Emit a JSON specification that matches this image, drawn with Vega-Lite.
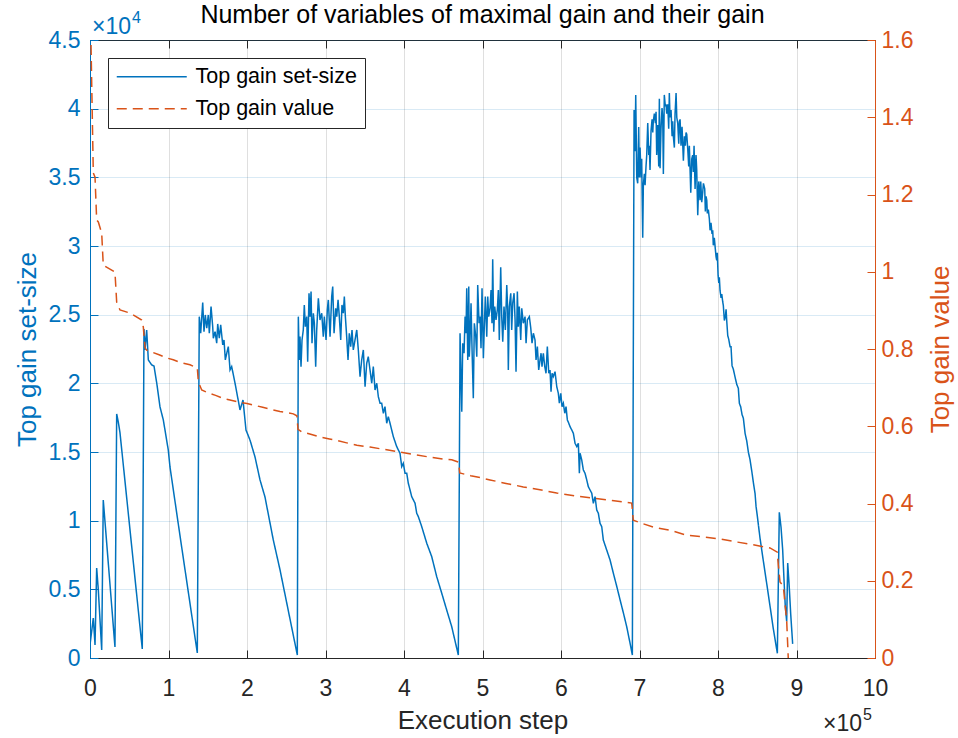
{
  "$schema": "https://vega.github.io/schema/vega-lite/v6.json",
  "width": 785,
  "height": 618,
  "autosize": {"type": "none"},
  "padding": {"left": 90, "top": 40, "right": 83, "bottom": 80},
  "background": "white",
  "config": {
    "font": "Liberation Sans",
    "view": {"stroke": "#262626", "strokeWidth": 1},
    "legend": {
      "orient": "none",
      "legendX": 18,
      "legendY": 18,
      "direction": "vertical",
      "padding": 8,
      "strokeColor": "#262626",
      "fillColor": "white",
      "cornerRadius": 0,
      "symbolType": "M-2,0H12",
      "symbolSize": 100,
      "symbolStrokeWidth": 1.5,
      "labelFontSize": 21.5,
      "labelColor": "#000000",
      "labelOffset": 58,
      "labelLimit": 400,
      "rowPadding": 9
    }
  },
  "title": {
    "text": "Number of variables of maximal gain and their gain",
    "fontSize": 25,
    "fontWeight": "normal",
    "color": "#000000",
    "anchor": "middle",
    "offset": -18
  },
  "datasets": {
    "setSize": [
      {"step": 0, "value": 950}, {"step": 4200, "value": 2913}, {"step": 6400, "value": 947}, {"step": 8500, "value": 6555}, {"step": 10600, "value": 4952}, {"step": 14900, "value": 583}, {"step": 16900, "value": 11507}, {"step": 31800, "value": 801}, {"step": 34000, "value": 17771}, {"step": 36000, "value": 17200}, {"step": 38200, "value": 16400}, {"step": 66600, "value": 655},
      {"step": 68800, "value": 23961}, {"step": 70100, "value": 22432}, {"step": 72200, "value": 23888}, {"step": 74300, "value": 21703}, {"step": 78600, "value": 21339}, {"step": 81500, "value": 21266}, {"step": 85000, "value": 20028}, {"step": 89200, "value": 18280}, {"step": 93400, "value": 17334}, {"step": 99700, "value": 15149}, {"step": 101900, "value": 13911}, {"step": 114700, "value": 8885}, {"step": 136700, "value": 364},
      {"step": 139200, "value": 24857}, {"step": 141000, "value": 23646}, {"step": 143600, "value": 25877}, {"step": 145200, "value": 23765}, {"step": 146900, "value": 24980}, {"step": 148700, "value": 24011}, {"step": 150700, "value": 24980}, {"step": 152000, "value": 23646}, {"step": 154200, "value": 25586}, {"step": 156300, "value": 24129}, {"step": 157100, "value": 23283}, {"step": 159300, "value": 23765}, {"step": 161400, "value": 22919}, {"step": 162700, "value": 24325}, {"step": 164700, "value": 23283}, {"step": 166500, "value": 24252}, {"step": 169100, "value": 22796}, {"step": 170700, "value": 23160}, {"step": 172400, "value": 21703}, {"step": 174200, "value": 22189}, {"step": 176200, "value": 22674}, {"step": 178400, "value": 20974}, {"step": 180500, "value": 21217}, {"step": 184700, "value": 20028}, {"step": 191100, "value": 18062}, {"step": 194900, "value": 18790}, {"step": 198700, "value": 16605}, {"step": 203800, "value": 15877}, {"step": 210200, "value": 14639}, {"step": 216600, "value": 12964}, {"step": 222900, "value": 11726}, {"step": 233500, "value": 8594}, {"step": 242100, "value": 6409}, {"step": 264100, "value": 218},
      {"step": 265400, "value": 24857}, {"step": 266600, "value": 21703}, {"step": 267500, "value": 23401}, {"step": 268800, "value": 21217}, {"step": 270100, "value": 23160}, {"step": 271700, "value": 23888}, {"step": 273000, "value": 25709}, {"step": 274300, "value": 24129}, {"step": 276100, "value": 24857}, {"step": 277300, "value": 21581}, {"step": 279000, "value": 26562}, {"step": 280300, "value": 24857}, {"step": 281600, "value": 26677}, {"step": 282800, "value": 22919}, {"step": 284500, "value": 25104}, {"step": 285800, "value": 24375}, {"step": 287500, "value": 21217}, {"step": 288800, "value": 23888}, {"step": 290900, "value": 26197}, {"step": 293000, "value": 24616}, {"step": 295200, "value": 25104}, {"step": 297200, "value": 23401}, {"step": 298500, "value": 24857}, {"step": 300700, "value": 23160}, {"step": 302300, "value": 25345}, {"step": 303600, "value": 26073}, {"step": 305800, "value": 23401}, {"step": 307900, "value": 26313}, {"step": 309200, "value": 27042}, {"step": 310900, "value": 23646}, {"step": 313000, "value": 25468}, {"step": 314300, "value": 24857}, {"step": 316000, "value": 26073}, {"step": 317600, "value": 24857}, {"step": 319400, "value": 23160}, {"step": 321000, "value": 25709}, {"step": 322700, "value": 25104}, {"step": 324000, "value": 26313}, {"step": 325300, "value": 24857}, {"step": 327000, "value": 23401}, {"step": 328700, "value": 21703}, {"step": 330300, "value": 23646}, {"step": 332100, "value": 22674}, {"step": 333800, "value": 23888}, {"step": 335400, "value": 22432}, {"step": 337600, "value": 23160}, {"step": 339800, "value": 23888}, {"step": 341800, "value": 22432}, {"step": 344000, "value": 20488}, {"step": 346100, "value": 21703}, {"step": 348200, "value": 22432}, {"step": 350400, "value": 19759}, {"step": 352500, "value": 21460}, {"step": 354500, "value": 21945}, {"step": 356700, "value": 20975}, {"step": 358900, "value": 20004}, {"step": 360900, "value": 21217}, {"step": 363100, "value": 19518}, {"step": 365300, "value": 20004}, {"step": 367300, "value": 19031}, {"step": 369500, "value": 18547}, {"step": 371600, "value": 18547}, {"step": 373700, "value": 17820}, {"step": 375800, "value": 18304}, {"step": 378000, "value": 17093}, {"step": 380000, "value": 17575}, {"step": 382200, "value": 17093}, {"step": 384300, "value": 16605}, {"step": 386400, "value": 16120}, {"step": 390700, "value": 15392}, {"step": 394900, "value": 14906}, {"step": 397100, "value": 13932}, {"step": 399100, "value": 14180}, {"step": 401300, "value": 13448}, {"step": 403500, "value": 13448}, {"step": 405500, "value": 12723}, {"step": 407700, "value": 12235}, {"step": 409800, "value": 11749}, {"step": 414100, "value": 11265}, {"step": 416200, "value": 10535}, {"step": 418300, "value": 10291}, {"step": 422600, "value": 9563}, {"step": 429000, "value": 8354}, {"step": 435300, "value": 7384}, {"step": 441700, "value": 5921}, {"step": 448100, "value": 4712}, {"step": 454400, "value": 3496}, {"step": 460800, "value": 2280}, {"step": 469200, "value": 218},
      {"step": 470500, "value": 13452}, {"step": 471400, "value": 23648}, {"step": 472700, "value": 20247}, {"step": 473600, "value": 17938}, {"step": 474800, "value": 22920}, {"step": 476500, "value": 22192}, {"step": 477800, "value": 24857}, {"step": 479000, "value": 23648}, {"step": 479900, "value": 26926}, {"step": 481200, "value": 21703}, {"step": 482500, "value": 27042}, {"step": 483200, "value": 21945}, {"step": 484100, "value": 23160}, {"step": 485400, "value": 25833}, {"step": 486700, "value": 22432}, {"step": 488300, "value": 18914}, {"step": 489600, "value": 24375}, {"step": 491400, "value": 23401}, {"step": 492700, "value": 21945}, {"step": 493900, "value": 27166}, {"step": 495600, "value": 24375}, {"step": 496900, "value": 24857}, {"step": 498100, "value": 22555}, {"step": 499400, "value": 26926}, {"step": 501100, "value": 21827}, {"step": 502300, "value": 24129}, {"step": 503600, "value": 26313}, {"step": 505400, "value": 23401}, {"step": 506700, "value": 26313}, {"step": 507900, "value": 24857}, {"step": 509600, "value": 25468}, {"step": 510900, "value": 26801}, {"step": 512100, "value": 24375}, {"step": 513000, "value": 29036}, {"step": 514300, "value": 23765}, {"step": 515600, "value": 25586}, {"step": 517200, "value": 24616}, {"step": 518900, "value": 25345}, {"step": 520200, "value": 26801}, {"step": 521400, "value": 23160}, {"step": 523200, "value": 28455}, {"step": 524500, "value": 24857}, {"step": 525800, "value": 23036}, {"step": 527400, "value": 25586}, {"step": 529100, "value": 23888}, {"step": 530900, "value": 27166}, {"step": 532100, "value": 25345}, {"step": 532900, "value": 20975}, {"step": 534200, "value": 25586}, {"step": 536000, "value": 26562}, {"step": 537200, "value": 23888}, {"step": 538500, "value": 25833}, {"step": 540200, "value": 26562}, {"step": 541500, "value": 24616}, {"step": 542700, "value": 20852}, {"step": 544400, "value": 26677}, {"step": 545600, "value": 24129}, {"step": 546900, "value": 25586}, {"step": 548700, "value": 23160}, {"step": 550000, "value": 25468}, {"step": 552000, "value": 24375}, {"step": 554200, "value": 24857}, {"step": 555500, "value": 22920}, {"step": 557100, "value": 24616}, {"step": 559700, "value": 24857}, {"step": 561500, "value": 24011}, {"step": 563100, "value": 22920}, {"step": 564800, "value": 23648}, {"step": 566900, "value": 23160}, {"step": 568200, "value": 21703}, {"step": 569900, "value": 22674}, {"step": 571600, "value": 20975}, {"step": 573300, "value": 21703}, {"step": 574600, "value": 22192}, {"step": 575800, "value": 21217}, {"step": 577500, "value": 22192}, {"step": 579300, "value": 21217}, {"step": 580900, "value": 20735}, {"step": 582600, "value": 22674}, {"step": 584400, "value": 20735}, {"step": 586000, "value": 20975}, {"step": 587300, "value": 19395}, {"step": 588600, "value": 20735}, {"step": 590200, "value": 20488}, {"step": 592400, "value": 20852}, {"step": 594600, "value": 19759}, {"step": 596600, "value": 19278}, {"step": 597900, "value": 18549}, {"step": 599700, "value": 19278}, {"step": 601300, "value": 18304}, {"step": 603000, "value": 18549}, {"step": 604800, "value": 17821}, {"step": 606400, "value": 18304}, {"step": 608100, "value": 17334}, {"step": 609900, "value": 17093}, {"step": 611500, "value": 16846}, {"step": 613700, "value": 16605}, {"step": 615700, "value": 16365}, {"step": 617900, "value": 15637}, {"step": 620100, "value": 15392}, {"step": 622100, "value": 15637}, {"step": 623400, "value": 13452}, {"step": 624300, "value": 14908}, {"step": 626400, "value": 14420}, {"step": 628500, "value": 13692}, {"step": 630600, "value": 13452}, {"step": 632800, "value": 12963}, {"step": 634800, "value": 12476}, {"step": 637000, "value": 12235}, {"step": 639200, "value": 11995}, {"step": 641200, "value": 11267}, {"step": 643400, "value": 11748}, {"step": 645500, "value": 10779}, {"step": 647600, "value": 10538}, {"step": 649700, "value": 9810}, {"step": 651900, "value": 9563}, {"step": 653900, "value": 8594}, {"step": 658200, "value": 7866}, {"step": 662500, "value": 7137}, {"step": 666700, "value": 6169}, {"step": 671100, "value": 5198}, {"step": 675300, "value": 4224}, {"step": 679600, "value": 3254}, {"step": 683700, "value": 2280}, {"step": 688000, "value": 1071}, {"step": 690900, "value": 218},
      {"step": 693100, "value": 39904}, {"step": 694300, "value": 36896}, {"step": 695200, "value": 41003}, {"step": 696500, "value": 34981}, {"step": 697700, "value": 34565}, {"step": 699000, "value": 38673}, {"step": 699800, "value": 34981}, {"step": 700700, "value": 37166}, {"step": 702000, "value": 34981}, {"step": 702800, "value": 36350}, {"step": 704100, "value": 30596}, {"step": 704900, "value": 34427}, {"step": 706200, "value": 35250}, {"step": 707100, "value": 34427}, {"step": 708300, "value": 35797}, {"step": 709200, "value": 36620}, {"step": 710500, "value": 38950}, {"step": 711800, "value": 36620}, {"step": 712500, "value": 37304}, {"step": 713400, "value": 35527}, {"step": 714700, "value": 38396}, {"step": 716000, "value": 39219}, {"step": 716900, "value": 38265}, {"step": 717600, "value": 39081}, {"step": 718900, "value": 39635}, {"step": 720200, "value": 38950}, {"step": 721100, "value": 39766}, {"step": 721900, "value": 36620}, {"step": 723200, "value": 38811}, {"step": 724500, "value": 35797}, {"step": 725300, "value": 40727}, {"step": 726200, "value": 35665}, {"step": 727400, "value": 38535}, {"step": 728700, "value": 40042}, {"step": 729600, "value": 39357}, {"step": 730400, "value": 35250}, {"step": 731600, "value": 41003}, {"step": 732900, "value": 40180}, {"step": 733800, "value": 40318}, {"step": 734700, "value": 39635}, {"step": 736000, "value": 40318}, {"step": 737200, "value": 38535}, {"step": 738000, "value": 41134}, {"step": 738900, "value": 39357}, {"step": 740200, "value": 39904}, {"step": 741500, "value": 37988}, {"step": 742300, "value": 39081}, {"step": 743100, "value": 37988}, {"step": 744400, "value": 37166}, {"step": 745300, "value": 39635}, {"step": 746600, "value": 41134}, {"step": 747500, "value": 39357}, {"step": 748700, "value": 38950}, {"step": 750000, "value": 37442}, {"step": 750800, "value": 39081}, {"step": 751700, "value": 39219}, {"step": 752900, "value": 37304}, {"step": 754200, "value": 38673}, {"step": 755900, "value": 36211}, {"step": 757200, "value": 37988}, {"step": 758400, "value": 37304}, {"step": 759300, "value": 38265}, {"step": 760200, "value": 38127}, {"step": 761500, "value": 37034}, {"step": 762700, "value": 35797}, {"step": 763500, "value": 37304}, {"step": 765300, "value": 33880}, {"step": 766600, "value": 36350}, {"step": 767800, "value": 36620}, {"step": 768600, "value": 35388}, {"step": 769500, "value": 37304}, {"step": 770800, "value": 34157}, {"step": 772000, "value": 36620}, {"step": 772900, "value": 35527}, {"step": 774200, "value": 32242}, {"step": 775500, "value": 34703}, {"step": 777100, "value": 33334}, {"step": 778000, "value": 34703}, {"step": 779300, "value": 33196}, {"step": 780500, "value": 33880}, {"step": 781400, "value": 34565}, {"step": 783100, "value": 34157}, {"step": 783900, "value": 32511}, {"step": 784800, "value": 33611}, {"step": 785700, "value": 33334}, {"step": 786400, "value": 32373}, {"step": 787700, "value": 32650}, {"step": 789000, "value": 31966}, {"step": 789900, "value": 31142}, {"step": 791100, "value": 31688}, {"step": 792400, "value": 30874}, {"step": 793300, "value": 31142}, {"step": 794000, "value": 30050}, {"step": 795300, "value": 30596}, {"step": 796600, "value": 29773}, {"step": 797500, "value": 29227}, {"step": 798400, "value": 28950}, {"step": 799100, "value": 29503}, {"step": 800100, "value": 27857}, {"step": 801000, "value": 27311}, {"step": 801700, "value": 27719}, {"step": 802600, "value": 26765}, {"step": 803900, "value": 26219}, {"step": 804800, "value": 26489}, {"step": 806000, "value": 25942}, {"step": 806800, "value": 25665}, {"step": 808100, "value": 24573}, {"step": 809400, "value": 24850}, {"step": 810300, "value": 25396}, {"step": 811100, "value": 24573}, {"step": 812400, "value": 23481}, {"step": 813700, "value": 23204}, {"step": 815400, "value": 22658}, {"step": 816600, "value": 22658}, {"step": 817900, "value": 21288}, {"step": 819600, "value": 21012}, {"step": 821700, "value": 20465}, {"step": 823900, "value": 19919}, {"step": 825900, "value": 19642}, {"step": 827200, "value": 18550}, {"step": 829000, "value": 18273}, {"step": 830600, "value": 17727}, {"step": 832300, "value": 17457}, {"step": 834500, "value": 16358}, {"step": 836600, "value": 15811}, {"step": 838700, "value": 14988}, {"step": 840800, "value": 14442}, {"step": 843000, "value": 13619}, {"step": 845000, "value": 12796}, {"step": 847200, "value": 11981}, {"step": 848500, "value": 11019}, {"step": 850100, "value": 10335}, {"step": 853600, "value": 8696}, {"step": 857800, "value": 7050}, {"step": 862100, "value": 5404}, {"step": 866300, "value": 3765}, {"step": 870500, "value": 2119}, {"step": 875600, "value": 342},
      {"step": 878100, "value": 10611}, {"step": 880300, "value": 9512}, {"step": 882400, "value": 7873}, {"step": 884100, "value": 5681}, {"step": 885700, "value": 3765}, {"step": 887500, "value": 2666}, {"step": 888800, "value": 6912}, {"step": 890800, "value": 5135}, {"step": 892600, "value": 3219}, {"step": 895100, "value": 1027}
    ],
    "gainValue": [
      {"step": 1300, "value": 1.587}, {"step": 4200, "value": 1.256}, {"step": 6400, "value": 1.245}, {"step": 8500, "value": 1.134}, {"step": 10600, "value": 1.129}, {"step": 14900, "value": 1.1}, {"step": 16900, "value": 1.017}, {"step": 27600, "value": 1.004}, {"step": 31800, "value": 0.999}, {"step": 34000, "value": 0.921}, {"step": 38200, "value": 0.901}, {"step": 51000, "value": 0.893}, {"step": 65900, "value": 0.875}, {"step": 67900, "value": 0.857}, {"step": 70100, "value": 0.803},
      {"step": 72200, "value": 0.797}, {"step": 80000, "value": 0.791}, {"step": 88000, "value": 0.785}, {"step": 97700, "value": 0.777}, {"step": 106000, "value": 0.772}, {"step": 115000, "value": 0.765}, {"step": 127400, "value": 0.759}, {"step": 136700, "value": 0.751}, {"step": 138000, "value": 0.715},
      {"step": 142300, "value": 0.694}, {"step": 150000, "value": 0.687}, {"step": 160000, "value": 0.68}, {"step": 170000, "value": 0.672}, {"step": 178300, "value": 0.668}, {"step": 190000, "value": 0.662}, {"step": 200000, "value": 0.659}, {"step": 208000, "value": 0.655}, {"step": 220000, "value": 0.649}, {"step": 232000, "value": 0.643}, {"step": 242000, "value": 0.638}, {"step": 252000, "value": 0.635}, {"step": 259000, "value": 0.632}, {"step": 263500, "value": 0.627}, {"step": 265000, "value": 0.592},
      {"step": 270000, "value": 0.585}, {"step": 280000, "value": 0.58}, {"step": 293000, "value": 0.572}, {"step": 305000, "value": 0.567}, {"step": 315000, "value": 0.563}, {"step": 327000, "value": 0.557}, {"step": 340000, "value": 0.551}, {"step": 356700, "value": 0.546}, {"step": 375000, "value": 0.54}, {"step": 394900, "value": 0.533}, {"step": 415000, "value": 0.526}, {"step": 433100, "value": 0.52}, {"step": 450000, "value": 0.515}, {"step": 460800, "value": 0.513}, {"step": 469500, "value": 0.507}, {"step": 471000, "value": 0.479},
      {"step": 485000, "value": 0.472}, {"step": 497000, "value": 0.467}, {"step": 509600, "value": 0.461}, {"step": 530000, "value": 0.452}, {"step": 552000, "value": 0.443}, {"step": 575000, "value": 0.435}, {"step": 594500, "value": 0.427}, {"step": 620000, "value": 0.419}, {"step": 641100, "value": 0.414}, {"step": 665000, "value": 0.408}, {"step": 690100, "value": 0.401}, {"step": 692100, "value": 0.357},
      {"step": 700700, "value": 0.35}, {"step": 717600, "value": 0.339}, {"step": 740000, "value": 0.33}, {"step": 760100, "value": 0.318}, {"step": 780000, "value": 0.314}, {"step": 802500, "value": 0.308}, {"step": 825000, "value": 0.3}, {"step": 845000, "value": 0.293}, {"step": 866200, "value": 0.285}, {"step": 875500, "value": 0.274}, {"step": 876800, "value": 0.241}, {"step": 879000, "value": 0.197}, {"step": 883200, "value": 0.186}, {"step": 887500, "value": 0.096}, {"step": 889500, "value": 0}
    ]
  },
  "layer": [
    {
      "layer": [
        {
          "data": {"name": "setSize"},
          "transform": [{"calculate": "'Top gain set-size'", "as": "series"}],
          "mark": {"type": "line", "strokeWidth": 1.5, "clip": true},
          "encoding": {
            "x": {
              "field": "step",
              "type": "quantitative",
              "scale": {"domain": [0, 1000000], "nice": false, "zero": false},
              "axis": {
                "orient": "bottom",
                "values": [0, 100000, 200000, 300000, 400000, 500000, 600000, 700000, 800000, 900000, 1000000],
                "labelExpr": "datum.value / 100000",
                "title": "Execution step",
                "grid": true,
                "gridColor": "#262626",
                "gridOpacity": 0.15,
                "tickSize": -8,
                "tickColor": "#262626",
                "domainColor": "#262626",
                "labelColor": "#262626",
                "titleColor": "#262626",
                "labelFontSize": 23,
                "titleFontSize": 26,
                "titleFontWeight": "normal",
                "labelPadding": 27,
                "titlePadding": 7,
                "labelFlush": false,
                "labelOverlap": false
              }
            },
            "y": {
              "field": "value",
              "type": "quantitative",
              "scale": {"domain": [0, 45000], "nice": false},
              "axis": {
                "orient": "left",
                "values": [0, 5000, 10000, 15000, 20000, 25000, 30000, 35000, 40000, 45000],
                "labelExpr": "datum.value / 10000",
                "title": "Top gain set-size",
                "grid": true,
                "gridColor": "#0072BD",
                "gridOpacity": 0.15,
                "tickSize": -8,
                "tickColor": "#0072BD",
                "domainColor": "#0072BD",
                "labelColor": "#0072BD",
                "titleColor": "#0072BD",
                "labelFontSize": 23,
                "titleFontSize": 26,
                "titleFontWeight": "normal",
                "labelPadding": 18,
                "titlePadding": 8,
                "labelFlush": false,
                "labelOverlap": false
              }
            },
            "color": {
              "field": "series",
              "type": "nominal",
              "scale": {"domain": ["Top gain set-size", "Top gain value"], "range": ["#0072BD", "#D95319"]},
              "legend": {"title": null}
            },
            "strokeDash": {
              "field": "series",
              "type": "nominal",
              "scale": {"domain": ["Top gain set-size", "Top gain value"], "range": [[1, 0], [10, 6]]},
              "legend": {"title": null}
            }
          }
        },
        {
          "data": {"values": [{"t": "×10"}]},
          "mark": {"type": "text", "align": "left", "baseline": "alphabetic", "dx": 2, "dy": -6, "fontSize": 23, "color": "#0072BD"},
          "encoding": {
            "x": {"datum": 0, "type": "quantitative"},
            "y": {"datum": 45000, "type": "quantitative"},
            "text": {"field": "t"}
          }
        },
        {
          "data": {"values": [{"t": "4"}]},
          "mark": {"type": "text", "align": "left", "baseline": "alphabetic", "dx": 42, "dy": -17, "fontSize": 16, "color": "#0072BD"},
          "encoding": {
            "x": {"datum": 0, "type": "quantitative"},
            "y": {"datum": 45000, "type": "quantitative"},
            "text": {"field": "t"}
          }
        },
        {
          "data": {"values": [{"t": "×10"}]},
          "mark": {"type": "text", "align": "right", "baseline": "alphabetic", "dx": -13, "dy": 73, "fontSize": 23, "color": "#262626"},
          "encoding": {
            "x": {"datum": 1000000, "type": "quantitative"},
            "y": {"datum": 0, "type": "quantitative"},
            "text": {"field": "t"}
          }
        },
        {
          "data": {"values": [{"t": "5"}]},
          "mark": {"type": "text", "align": "right", "baseline": "alphabetic", "dx": -3, "dy": 62, "fontSize": 16, "color": "#262626"},
          "encoding": {
            "x": {"datum": 1000000, "type": "quantitative"},
            "y": {"datum": 0, "type": "quantitative"},
            "text": {"field": "t"}
          }
        }
      ]
    },
    {
      "data": {"name": "gainValue"},
      "transform": [{"calculate": "'Top gain value'", "as": "series"}],
      "mark": {"type": "line", "strokeWidth": 1.5, "clip": true},
      "encoding": {
        "x": {
          "field": "step",
          "type": "quantitative",
          "axis": {
            "orient": "top",
            "values": [0, 100000, 200000, 300000, 400000, 500000, 600000, 700000, 800000, 900000, 1000000],
            "labels": false,
            "title": null,
            "grid": false,
            "domain": false,
            "tickSize": -8,
            "tickColor": "#262626"
          }
        },
        "y": {
          "field": "value",
          "type": "quantitative",
          "scale": {"domain": [0, 1.6], "nice": false},
          "axis": {
            "orient": "right",
            "values": [0, 0.2, 0.4, 0.6, 0.8, 1, 1.2, 1.4, 1.6],
            "format": "~g",
            "title": "Top gain value",
            "titleAngle": 270,
            "titleBaseline": "top",
            "grid": false,
            "tickSize": -8,
            "tickColor": "#D95319",
            "domainColor": "#D95319",
            "labelColor": "#D95319",
            "titleColor": "#D95319",
            "labelFontSize": 23,
            "titleFontSize": 26,
            "titleFontWeight": "normal",
            "labelPadding": 14,
            "titlePadding": 15,
            "labelFlush": false,
            "labelOverlap": false
          }
        },
        "color": {"field": "series", "type": "nominal", "legend": {"title": null}},
        "strokeDash": {"field": "series", "type": "nominal", "legend": {"title": null}}
      }
    }
  ],
  "resolve": {"scale": {"y": "independent"}, "axis": {"x": "independent"}}
}
